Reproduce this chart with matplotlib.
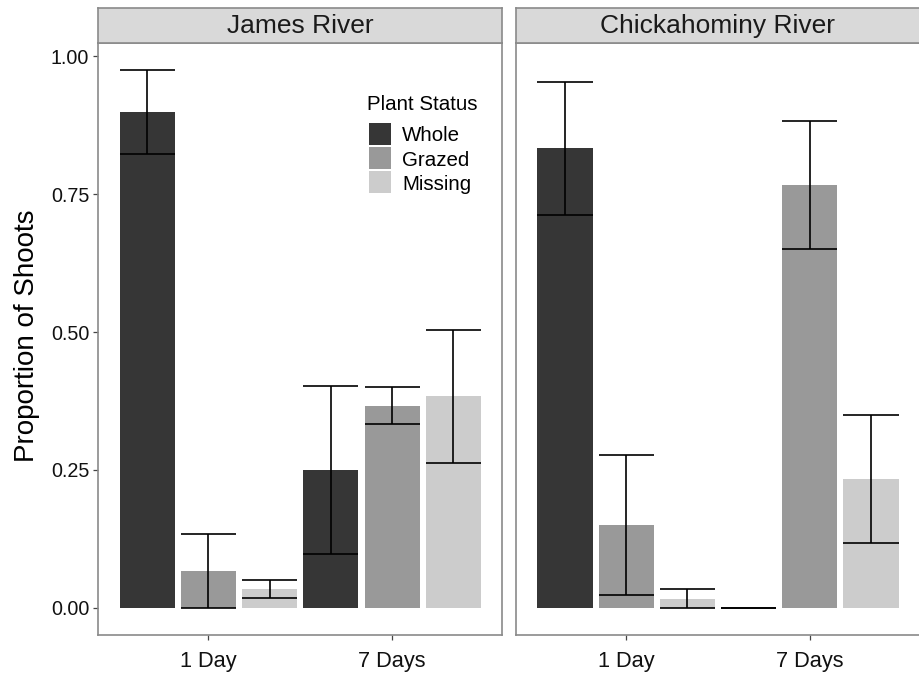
import matplotlib
matplotlib.use('Agg')
import matplotlib.pyplot as plt
from matplotlib.patches import Rectangle
from matplotlib.ticker import FormatStrFormatter

plt.rcParams['font.family'] = ['Liberation Sans', 'DejaVu Sans']

rivers = ['James River', 'Chickahominy River']
times = ['1 Day', '7 Days']
statuses = ['Whole', 'Grazed', 'Missing']
fill_colors = ['#363636', '#999999', '#CCCCCC']

# mean proportion per time (rows) and status (columns)
james_mean = [[0.900, 0.0667, 0.0333], [0.250, 0.3667, 0.3833]]
james_lower = [[0.823, 0.000, 0.0175], [0.0967, 0.333, 0.263]]
james_upper = [[0.976, 0.133, 0.0505], [0.4025, 0.400, 0.503]]

chick_mean = [[0.833, 0.150, 0.0167], [0.000, 0.7667, 0.2333]]
chick_lower = [[0.713, 0.0236, 0.000], [0.000, 0.651, 0.1166]]
chick_upper = [[0.953, 0.2765, 0.0333], [0.000, 0.883, 0.349]]

panels = [(james_mean, james_lower, james_upper),
          (chick_mean, chick_lower, chick_upper)]

W, H = 919, 676
fig = plt.figure(figsize=(W / 100, H / 100), dpi=100)

def fx(px):
    return px / W

def fy(py):
    return 1 - py / H

border = '#8A8A8A'
panel_left = [98.3, 516.0]
panel_w = 404.0
panel_top, panel_bot = 42.7, 634.7
strip_top = 7.7

dodge = 1 / 3
bar_w = 0.30

axes = []
for i, (river, (mean, lower, upper)) in enumerate(zip(rivers, panels)):
    ax = fig.add_axes([fx(panel_left[i]), fy(panel_bot), fx(panel_w),
                       (panel_bot - panel_top) / H])
    axes.append(ax)
    for t in range(len(times)):
        for s in range(len(statuses)):
            x = t + 1 + (s - 1) * dodge
            ax.bar(x, mean[t][s], width=bar_w, color=fill_colors[s],
                   linewidth=0, zorder=2)
            ax.vlines(x, lower[t][s], upper[t][s], color='black',
                      linewidth=1.2, zorder=3)
            ax.hlines([lower[t][s], upper[t][s]], x - bar_w / 2, x + bar_w / 2,
                      color='black', linewidth=1.2, zorder=3)
    ax.set_xlim(0.4, 2.6)
    ax.set_ylim(-0.0488, 1.0248)
    ax.set_xticks([1, 2])
    ax.set_xticklabels(times, fontsize=15.7, color='#111111')
    ax.set_yticks([0, 0.25, 0.5, 0.75, 1.0])
    ax.yaxis.set_major_formatter(FormatStrFormatter('%.2f'))
    ax.tick_params(axis='both', length=3.5, width=0.9, color='#444444',
                   pad=3)
    ax.tick_params(axis='y', labelsize=14.2, labelcolor='#111111')
    ax.tick_params(axis='x', pad=8)
    for sp in ax.spines.values():
        sp.set_color(border)
        sp.set_linewidth(1.2)
    if i == 1:
        ax.tick_params(axis='y', left=False, labelleft=False)

    # strip
    sax = fig.add_axes([fx(panel_left[i]), fy(panel_top), fx(panel_w),
                        (panel_top - strip_top) / H])
    sax.set_facecolor('#D9D9D9')
    sax.set_xticks([])
    sax.set_yticks([])
    for sp in sax.spines.values():
        sp.set_color(border)
        sp.set_linewidth(1.2)
    sax.text(0.5, 0.47, river, ha='center', va='center', fontsize=19,
             color='#1A1A1A', transform=sax.transAxes)

fig.text(fx(14), fy(336), 'Proportion of Shoots', rotation=90,
         ha='left', va='center', fontsize=20, color='black')

# legend (drawn manually in figure pixel space)
key_x, key_y0, key_size, key_pitch = 369.0, 122.7, 22.0, 24.2
fig.text(fx(367), fy(110), 'Plant Status', ha='left', va='baseline',
         fontsize=14.8, color='black')
for s, (label, col) in enumerate(zip(statuses, fill_colors)):
    top = key_y0 + s * key_pitch
    fig.patches.append(Rectangle((fx(key_x), fy(top + key_size)),
                                 fx(key_size), key_size / H,
                                 transform=fig.transFigure, facecolor=col,
                                 edgecolor='none', figure=fig))
    fig.text(fx(402), fy(top + key_size / 2 + 7.6), label, ha='left',
             va='baseline', fontsize=14.8, color='black')

fig.savefig('out.png', dpi=100)
